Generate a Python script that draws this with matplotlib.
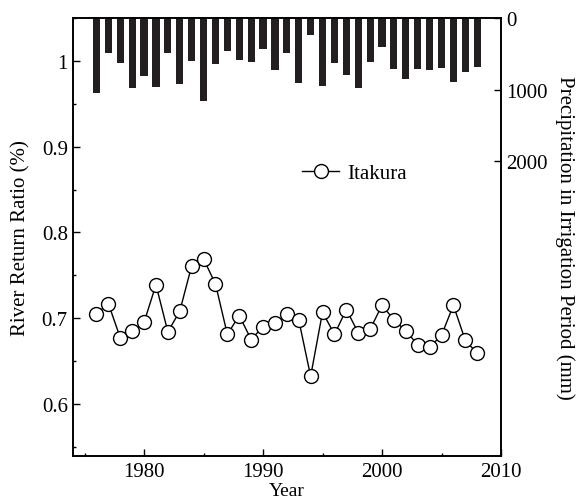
import matplotlib
matplotlib.use("Agg")
import matplotlib.pyplot as plt
from matplotlib.ticker import MultipleLocator, FixedLocator

years = list(range(1976, 2009))
ratio = [0.705, 0.717, 0.677, 0.685, 0.695, 0.739, 0.684, 0.708, 0.761, 0.769,
         0.740, 0.681, 0.703, 0.675, 0.690, 0.694, 0.705, 0.698, 0.632, 0.707,
         0.681, 0.710, 0.683, 0.687, 0.715, 0.698, 0.685, 0.669, 0.666, 0.680,
         0.715, 0.674, 0.659]
precip = [1045, 481, 621, 975, 802, 956, 481, 919, 593, 1152,
          635, 453, 583, 607, 425, 723, 492, 901, 238, 942,
          630, 788, 971, 607, 397, 705, 845, 705, 719, 691,
          887, 747, 677]
series_name = "Itakura"
right_ticks = [0, 1000, 2000]

plt.rcParams['font.family'] = ['Liberation Serif', 'DejaVu Serif']

fig = plt.figure(figsize=(5.8, 5.02), dpi=100)
ax = fig.add_axes([0.1253, 0.0896, 0.8638 - 0.1253, 0.9616 - 0.0896])
ax2 = ax.twinx()

ax2.bar(years, precip, width=0.6, color='#231f20', zorder=1)
ax2.set_ylim(6120, 0)
ax2.yaxis.set_major_locator(FixedLocator(right_ticks))
ax2.set_ylabel("Precipitation in Irrigation Period (mm)", fontsize=15,
               rotation=270, labelpad=20)

ax.set_zorder(ax2.get_zorder() + 1)
ax.patch.set_visible(False)
ax.plot(years, ratio, color='black', lw=1.0, marker='o', markersize=10,
        markerfacecolor='white', markeredgecolor='black', markeredgewidth=1.0,
        label=series_name)
ax.set_xlim(1974, 2010)
ax.set_ylim(0.539, 1.05)
ax.xaxis.set_major_locator(MultipleLocator(10))
ax.xaxis.set_minor_locator(MultipleLocator(5))
ax.yaxis.set_minor_locator(MultipleLocator(0.05))
ax.set_yticks([0.6, 0.7, 0.8, 0.9, 1.0])
ax.set_yticklabels(["0.6", "0.7", "0.8", "0.9", "1"])
ax.set_xlabel("Year", fontsize=14, labelpad=1)
ax.set_ylabel("River Return Ratio (%)", fontsize=15, labelpad=8)

for a in (ax, ax2):
    a.tick_params(which='major', direction='in', length=5, width=1, labelsize=15)
    a.tick_params(which='minor', direction='in', length=2.5, width=1)
    for s in a.spines.values():
        s.set_linewidth(1.2)
ax.tick_params(axis='x', which='major', pad=4)
ax.tick_params(axis='x', which='both', top=False)
ax2.tick_params(axis='y', which='minor', right=False)

ax.legend(loc='center left', bbox_to_anchor=(0.535, 0.645), frameon=False,
          fontsize=15, handlelength=1.8, handletextpad=0.4, borderpad=0,
          borderaxespad=0)

fig.savefig("out.png", dpi=100)
